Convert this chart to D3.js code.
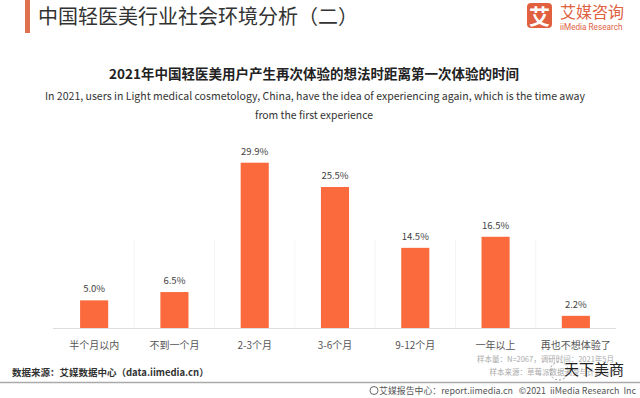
<!DOCTYPE html>
<html lang="zh">
<head>
  <meta charset="UTF-8" />
  <title>中国轻医美行业社会环境分析（二）</title>
  <script src="https://d3js.org/d3.v7.min.js"></script>
  <style>
    html, body { margin: 0; padding: 0; background: #fff; }
    svg { display: block; font-family: "Noto Sans CJK SC", "Noto Sans", sans-serif; }
  </style>
</head>
<body>
  <svg id="chart" width="640" height="398"></svg>

  <script>
    // data
    const categories = ["半个月以内", "不到一个月", "2-3个月", "3-6个月", "9-12个月", "一年以上", "再也不想体验了"];
    const shares = [5.0, 6.5, 29.9, 25.5, 14.5, 16.5, 2.2];

    const pageTitle = "中国轻医美行业社会环境分析（二）";
    const chartTitle = "2021年中国轻医美用户产生再次体验的想法时距离第一次体验的时间";
    const subtitleLines = [
      "In 2021, users in Light medical cosmetology, China, have the idea of experiencing again, which is the time away",
      "from the first experience"
    ];
    const sampleNotes = ["样本量：N=2067，调研时间：2021年5月", "样本来源：草莓派数据调查与计算系统"];
    const sourceNote = "数据来源：艾媒数据中心（data.iimedia.cn）";
    const footerNote = "艾媒报告中心：report.iimedia.cn   ©2021  iiMedia Research  Inc";

    const orange = "#fa6a3c";
    const svg = d3.select("#chart");

    // header
    svg.append("rect").attr("x", 25).attr("y", 0).attr("width", 5).attr("height", 33).attr("fill", "#e0714f");
    svg.append("text").attr("x", 38).attr("y", 24)
      .attr("font-size", 20).attr("fill", "#333").text(pageTitle);

    // logo
    const logo = svg.append("g");
    logo.append("rect").attr("x", 527).attr("y", 3).attr("width", 25).attr("height", 25).attr("rx", 4).attr("fill", "#e0603f");
    logo.append("text").attr("x", 539.5).attr("y", 24).attr("text-anchor", "middle")
      .attr("font-size", 21).attr("font-weight", "bold").attr("fill", "#fff").text("艾");
    logo.append("text").attr("x", 560).attr("y", 18).attr("font-size", 16).attr("fill", "#e0603f").text("艾媒咨询");
    logo.append("text").attr("x", 560).attr("y", 29.5).attr("font-size", 8.2).attr("fill", "#e0603f")
      .attr("font-family", "\"Liberation Sans Narrow\", Roboto, sans-serif").text("iiMedia Research");

    // chart titles
    svg.append("text").attr("x", 314).attr("y", 79).attr("text-anchor", "middle")
      .attr("font-size", 13.5).attr("font-weight", "bold").attr("fill", "#222").text(chartTitle);
    svg.append("text").attr("x", 45).attr("y", 100)
      .attr("font-size", 11).attr("fill", "#333")
      .attr("textLength", 540).attr("lengthAdjust", "spacingAndGlyphs").text(subtitleLines[0]);
    svg.append("text").attr("x", 314).attr("y", 119).attr("text-anchor", "middle")
      .attr("font-size", 11).attr("fill", "#333")
      .attr("textLength", 118).attr("lengthAdjust", "spacingAndGlyphs").text(subtitleLines[1]);

    // scales
    const x = d3.scaleBand().domain(categories).range([54, 616]).paddingInner(0.65).paddingOuter(0.325);
    const y = d3.scaleLinear().domain([0, 29.9]).range([328, 162.7]);

    // faint column separators
    svg.append("g").selectAll("line").data(categories.slice(1)).join("line")
      .attr("x1", d => x(d) - x.step() * 0.65 / 2).attr("x2", d => x(d) - x.step() * 0.65 / 2)
      .attr("y1", 240).attr("y2", 328)
      .attr("stroke", "#f4f4f4").attr("stroke-width", 1);

    // bars
    svg.append("g").selectAll("rect").data(shares).join("rect")
      .attr("x", (d, i) => x(categories[i]))
      .attr("y", d => y(d))
      .attr("width", x.bandwidth())
      .attr("height", d => y(0) - y(d))
      .attr("fill", orange);

    // value labels
    svg.append("g").selectAll("text").data(shares).join("text")
      .attr("x", (d, i) => x(categories[i]) + x.bandwidth() / 2)
      .attr("y", d => y(d) - 8)
      .attr("text-anchor", "middle").attr("font-size", 9.5).attr("fill", "#444")
      .text(d => d.toFixed(1) + "%");

    // x axis
    const xAxis = svg.append("g").attr("transform", `translate(0,${y(0)})`)
      .call(d3.axisBottom(x).tickSize(0).tickPadding(14));
    xAxis.select(".domain").attr("stroke", "#ddd").attr("d", "M53,0.5H616");
    xAxis.selectAll("text").attr("font-size", 10).attr("fill", "#555")
      .attr("font-family", "\"Noto Sans CJK SC\", sans-serif");

    // notes
    sampleNotes.forEach((t, i) => {
      svg.append("text").attr("x", 614 + i * 3).attr("y", 362 + i * 13).attr("text-anchor", "end")
        .attr("font-size", 7.5).attr("fill", "#aaa").text(t);
    });
    svg.append("text").attr("x", 12).attr("y", 376).attr("font-size", 9.5)
      .attr("font-weight", "bold").attr("fill", "#333").text(sourceNote);

    // watermark
    svg.append("circle").attr("cx", 559).attr("cy", 371).attr("r", 9)
      .attr("fill", "none").attr("stroke", "#999").attr("stroke-dasharray", "2,2");
    svg.append("text").attr("x", 564).attr("y", 375).attr("font-size", 15).attr("fill", "#222")
      .attr("stroke", "#fff").attr("stroke-width", 0.6).attr("paint-order", "stroke").text("天下美商");

    // footer
    svg.append("line").attr("x1", 0).attr("x2", 640).attr("y1", 382.5).attr("y2", 382.5)
      .attr("stroke", "#aaa").attr("stroke-width", 1.5);
    svg.append("circle").attr("cx", 374).attr("cy", 390.5).attr("r", 4)
      .attr("fill", "none").attr("stroke", "#666").attr("stroke-width", 1);
    svg.append("text").attr("x", 636).attr("y", 394).attr("text-anchor", "end")
      .attr("font-size", 8.9).attr("fill", "#555").attr("xml:space", "preserve").text(footerNote);
  </script>
</body>
</html>
